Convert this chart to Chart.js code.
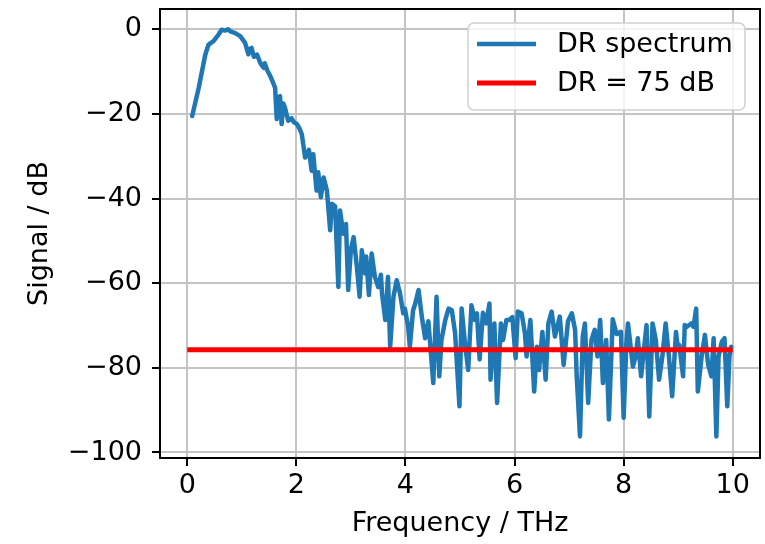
<!DOCTYPE html>
<html>
<head>
<meta charset="utf-8">
<script src="https://cdn.jsdelivr.net/npm/chart.js@4.4.1/dist/chart.umd.min.js"></script>
<style>
  html, body { margin: 0; padding: 0; background: #fff; }
  #wrap { width: 765px; height: 544px; }
</style>
</head>
<body>
<div id="wrap"><canvas id="drChart" width="765" height="544"></canvas></div>
<script>
/* ── data ────────────────────────────────────────────────── */
const spectrumFreq = [
  0.09, 0.21, 0.33, 0.39, 0.48, 0.57, 0.63, 0.70, 0.75, 0.79, 0.88, 0.97,
  1.06, 1.12, 1.15, 1.18, 1.22, 1.28, 1.34, 1.40, 1.42, 1.47, 1.52, 1.57,
  1.61, 1.64, 1.67, 1.70, 1.73, 1.76, 1.79, 1.85, 1.91, 1.96, 2.01, 2.06,
  2.10, 2.16, 2.19, 2.23, 2.28, 2.31, 2.37, 2.40, 2.45, 2.50, 2.56, 2.62,
  2.65, 2.71, 2.77, 2.80, 2.86, 2.91, 2.95, 3.00, 3.05, 3.11, 3.16, 3.20,
  3.26, 3.28, 3.33, 3.38, 3.44, 3.50, 3.55, 3.57, 3.63, 3.68, 3.72, 3.78,
  3.84, 3.90, 3.96, 3.99, 4.05, 4.08, 4.14, 4.18, 4.24, 4.30, 4.36, 4.42,
  4.51, 4.57, 4.62, 4.66, 4.73, 4.79, 4.85, 4.91, 4.99, 5.03, 5.09, 5.15,
  5.21, 5.27, 5.31, 5.36, 5.42, 5.48, 5.54, 5.56, 5.63, 5.68, 5.75, 5.79,
  5.85, 5.90, 5.96, 6.02, 6.06, 6.13, 6.19, 6.22, 6.29, 6.36, 6.41, 6.45,
  6.51, 6.57, 6.62, 6.68, 6.74, 6.83, 6.90, 6.98, 7.05, 7.11, 7.14, 7.20,
  7.25, 7.29, 7.35, 7.41, 7.47, 7.52, 7.57, 7.62, 7.68, 7.73, 7.80, 7.87,
  7.95, 8.00, 8.05, 8.08, 8.17, 8.22, 8.26, 8.32, 8.42, 8.47, 8.53, 8.59,
  8.65, 8.71, 8.77, 8.83, 8.89, 8.96, 8.99, 9.02, 9.09, 9.12, 9.16, 9.24,
  9.28, 9.33, 9.36, 9.43, 9.49, 9.55, 9.61, 9.65, 9.70, 9.74, 9.80, 9.85,
  9.90, 9.94, 9.97
];
const spectrumDb = [
  -20.5, -13.8, -6.0, -3.6, -2.8, -1.3, -0.1, -0.3, 0.0, -0.5, -0.9, -1.6,
  -3.2, -5.9, -4.6, -4.4, -6.5, -6.0, -8.0, -9.1, -8.0, -9.8, -11.0, -12.5,
  -13.8, -21.2, -16.0, -15.8, -22.4, -17.5, -18.5, -21.6, -21.0, -22.0, -22.4, -23.5,
  -24.8, -30.3, -29.8, -28.5, -33.4, -29.5, -38.1, -33.8, -39.7, -35.0, -38.1, -47.5,
  -41.2, -41.8, -60.9, -42.8, -48.3, -46.0, -61.6, -52.0, -49.1, -56.2, -63.2, -52.2,
  -57.7, -53.7, -62.8, -53.0, -58.5, -60.9, -58.0, -62.4, -68.7, -58.5, -75.0, -63.2,
  -59.3, -62.4, -67.1, -66.0, -70.3, -75.0, -66.4, -64.8, -61.6, -67.9, -73.0, -69.0,
  -83.6, -63.2, -82.0, -73.4, -68.7, -66.0, -66.4, -71.8, -89.1, -66.0, -74.0, -80.5,
  -65.2, -68.7, -67.1, -78.0, -67.0, -69.5, -64.8, -82.8, -69.5, -88.3, -69.5, -73.4,
  -68.7, -68.7, -68.0, -77.7, -66.7, -67.1, -71.8, -77.3, -68.7, -85.6, -75.0, -80.5,
  -71.5, -82.8, -69.5, -66.7, -72.6, -67.9, -79.3, -69.0, -67.1, -71.0, -82.0, -96.2,
  -72.6, -69.5, -88.3, -73.4, -71.0, -77.3, -68.7, -83.6, -73.4, -92.2, -68.5, -72.0,
  -71.5, -91.8, -74.2, -69.5, -79.7, -77.3, -73.0, -82.0, -69.9, -91.5, -69.5, -73.4,
  -82.8, -77.3, -69.5, -77.3, -86.7, -71.5, -75.0, -74.6, -82.0, -69.9, -70.3, -69.5,
  -70.3, -66.0, -85.6, -77.3, -72.2, -79.3, -82.0, -73.0, -96.2, -77.3, -73.8, -73.0,
  -89.1, -77.3, -75.0
];
const thresholdFreq = [0, 10];
const thresholdDb = [-75.7, -75.7];

const freqTicks = [0, 2, 4, 6, 8, 10];
const dbTicks = [-100, -80, -60, -40, -20, 0];

/* ── chart ───────────────────────────────────────────────── */
const FONT = "'DejaVu Sans', sans-serif";
const toPoints = (xs, ys) => xs.map((x, i) => ({ x, y: ys[i] }));
const fmt = (v) => (v < 0 ? "\u2212" + Math.abs(v) : String(v));

// box round the plot area, drawn over the lines like matplotlib spines
const framePlugin = {
  id: "frame",
  afterDatasetsDraw(chart) {
    const { ctx, chartArea: a } = chart;
    ctx.save();
    ctx.strokeStyle = "#000";
    ctx.lineWidth = 2;
    ctx.strokeRect(a.left, a.top, a.right - a.left, a.bottom - a.top);
    ctx.restore();
  },
};

// legend box in the upper right corner of the plot
const boxLegend = {
  id: "boxLegend",
  afterDraw(chart) {
    const { ctx } = chart;
    const x = 468, y = 23, w = 277, h = 87, r = 6;
    ctx.save();
    ctx.beginPath();
    ctx.roundRect(x, y, w, h, r);
    ctx.fillStyle = "rgba(255,255,255,0.8)";
    ctx.fill();
    ctx.strokeStyle = "#d0d0d0";
    ctx.lineWidth = 1.5;
    ctx.stroke();
    ctx.font = "27px " + FONT;
    ctx.textBaseline = "middle";
    chart.data.datasets.forEach((ds, i) => {
      const ly = 44 + i * 39;
      ctx.beginPath();
      ctx.moveTo(477, ly);
      ctx.lineTo(536, ly);
      ctx.strokeStyle = ds.borderColor;
      ctx.lineWidth = ds.borderWidth;
      ctx.stroke();
      ctx.fillStyle = "#000";
      ctx.fillText(ds.label, 557, ly + 1);
    });
    ctx.restore();
  },
};

new Chart(document.getElementById("drChart"), {
  type: "line",
  data: {
    datasets: [
      {
        label: "DR spectrum",
        data: toPoints(spectrumFreq, spectrumDb),
        borderColor: "#1f77b4",
        borderWidth: 4.5,
        pointRadius: 0,
        tension: 0,
        borderJoinStyle: "round",
        borderCapStyle: "round",
        order: 1,
      },
      {
        label: "DR = 75 dB",
        data: toPoints(thresholdFreq, thresholdDb),
        borderColor: "#ff0000",
        borderWidth: 5,
        pointRadius: 0,
        order: 0,
      },
    ],
  },
  options: {
    responsive: false,
    animation: false,
    devicePixelRatio: 1,
    layout: { padding: { left: 0, right: 5, top: 9, bottom: 0 } },
    plugins: {
      legend: { display: false },
      tooltip: { enabled: false },
    },
    scales: {
      x: {
        type: "linear",
        min: -0.5,
        max: 10.5,
        afterBuildTicks: (s) => { s.ticks = freqTicks.map((v) => ({ value: v })); },
        afterFit: (s) => { s.height = 86; s.paddingLeft = 0; s.paddingRight = 0; },
        grid: { color: "#c4c4c4", lineWidth: 2, tickColor: "#000", tickWidth: 2, tickLength: 8 },
        border: { display: false },
        ticks: { color: "#000", font: { family: FONT, size: 27 }, padding: 4, maxRotation: 0, callback: fmt },
        title: { display: true, text: "Frequency / THz", color: "#000", font: { family: FONT, size: 27 }, padding: { top: 0, bottom: 4 } },
      },
      y: {
        min: -101.3,
        max: 4.8,
        afterBuildTicks: (s) => { s.ticks = dbTicks.map((v) => ({ value: v })); },
        afterFit: (s) => { s.width = 160; s.paddingTop = 0; s.paddingBottom = 0; },
        grid: { color: "#c4c4c4", lineWidth: 2, tickColor: "#000", tickWidth: 2, tickLength: 8 },
        border: { display: false },
        ticks: { color: "#000", font: { family: FONT, size: 27 }, padding: 10, callback: fmt },
        title: { display: true, text: "Signal / dB", color: "#000", font: { family: FONT, size: 27 }, padding: { top: 24, bottom: 0 } },
      },
    },
  },
  plugins: [framePlugin, boxLegend],
});
</script>
</body>
</html>
